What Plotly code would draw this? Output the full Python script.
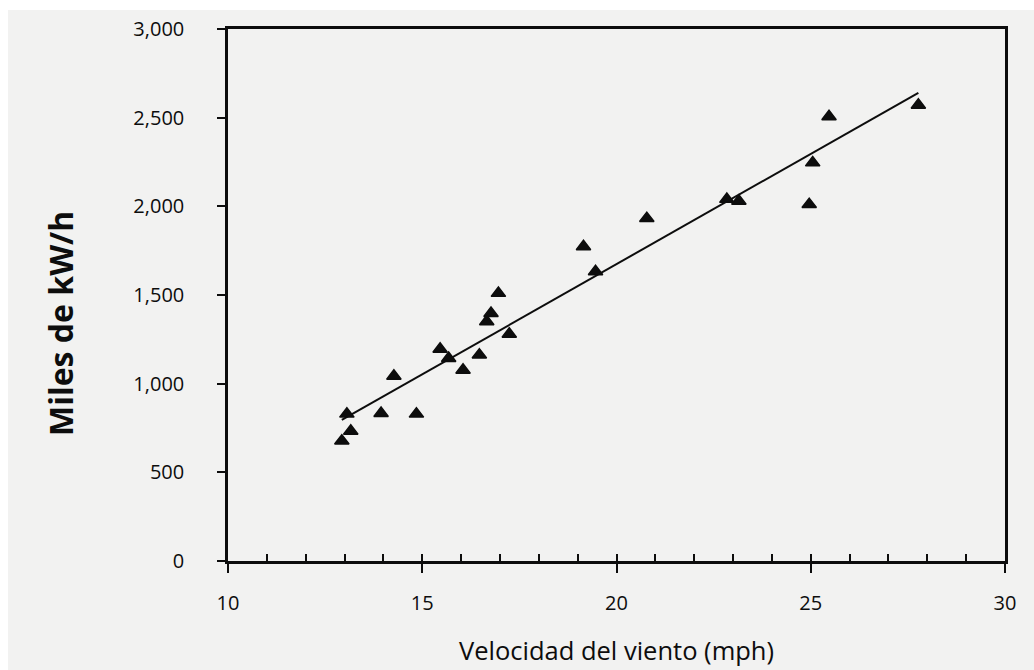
import numpy as np
import plotly.graph_objects as go

# Wind speed (mph) and generated energy (thousands of kW/h)
velocidad = [12.93, 13.16, 13.06, 13.94, 14.85, 14.27, 15.46, 15.68, 16.05, 16.47,
             17.24, 16.66, 16.77, 16.96, 19.46, 19.15, 20.78, 22.84, 23.15, 24.96,
             25.05, 25.47, 27.77]
energia = [677, 733, 829, 833, 829, 1043, 1195, 1143, 1077, 1162,
           1280, 1350, 1397, 1510, 1632, 1773, 1932, 2040, 2030, 2011,
           2246, 2506, 2571]

x_ticks = [10, 15, 20, 25, 30]
y_ticks = [0, 500, 1000, 1500, 2000, 2500, 3000]
y_ticktext = ["0", "500", "1,000", "1,500", "2,000", "2,500", "3,000"]

# Least-squares trend line across the observed speed range
pendiente, intercepto = np.polyfit(velocidad, energia, 1)
linea_x = np.array([min(velocidad), max(velocidad)])
linea_y = pendiente * linea_x + intercepto

FONT = "Open Sans"
INK = "#0d0d0d"

fig = go.Figure()
fig.add_trace(go.Scatter(
    x=linea_x, y=linea_y, mode="lines",
    line=dict(color=INK, width=2), hoverinfo="skip", showlegend=False,
))
fig.add_trace(go.Scatter(
    x=velocidad, y=energia, mode="markers",
    marker=dict(symbol="triangle-up", size=12.5, color=INK,
                line=dict(color=INK, width=1.5)),
    showlegend=False,
))
# invisible trace so the secondary x axis (inner minor ticks) is drawn
fig.add_trace(go.Scatter(x=[10, 30], y=[0, 0], xaxis="x2", mode="markers",
                         marker=dict(opacity=0), hoverinfo="skip", showlegend=False))

fig.update_layout(
    width=1034, height=670,
    margin=dict(l=228, r=29, t=29, b=109),
    paper_bgcolor="#f2f2f1", plot_bgcolor="rgba(0,0,0,0)",
    font=dict(family=FONT, color=INK),
    xaxis=dict(
        range=[10, 30], tickvals=x_ticks, ticks="outside", ticklen=9,
        tickwidth=1.5, tickcolor=INK, showgrid=False, zeroline=False,
        showline=True, linecolor=INK, linewidth=2.5, mirror=True,
        tickfont=dict(size=20, family=FONT, color=INK), ticklabelstandoff=13,
    ),
    xaxis2=dict(
        range=[10, 30], overlaying="x", side="bottom", dtick=1, tick0=10,
        ticks="inside", ticklen=7, tickwidth=1.5, tickcolor=INK,
        showticklabels=False, showgrid=False, zeroline=False, showline=False,
    ),
    yaxis=dict(
        range=[0, 3000], tickvals=y_ticks, ticktext=y_ticktext, ticks="outside",
        ticklen=8, tickwidth=1.5, tickcolor=INK, showgrid=False, zeroline=False,
        showline=True, linecolor=INK, linewidth=2.5, mirror=True,
        tickfont=dict(size=20, family=FONT, color=INK), ticklabelstandoff=29,
    ),
    annotations=[
        dict(text="Velocidad del viento (mph)", xref="paper", yref="paper",
             x=(616.5 - 228) / 777, y=-(650 - 561) / 532, xanchor="center",
             yanchor="middle", showarrow=False,
             font=dict(size=25.5, family=FONT, color=INK)),
        dict(text="<b>Miles de kW/h</b>", xref="paper", yref="paper",
             x=-(228 - 60) / 777, y=(561 - 324) / 532, xanchor="center",
             yanchor="middle", textangle=-90, showarrow=False,
             font=dict(size=32, family=FONT, color=INK)),
    ],
    shapes=[
        dict(type="rect", xref="paper", yref="paper", layer="below",
             x0=-228 / 777, x1=1 + 29 / 777, y0=1 + 19 / 532, y1=1 + 29 / 532,
             fillcolor="white", line=dict(width=0)),
        dict(type="rect", xref="paper", yref="paper", layer="below",
             x0=-228 / 777, x1=-220 / 777, y0=-109 / 532, y1=1 + 29 / 532,
             fillcolor="white", line=dict(width=0)),
    ],
)

fig.write_html("out.html")
